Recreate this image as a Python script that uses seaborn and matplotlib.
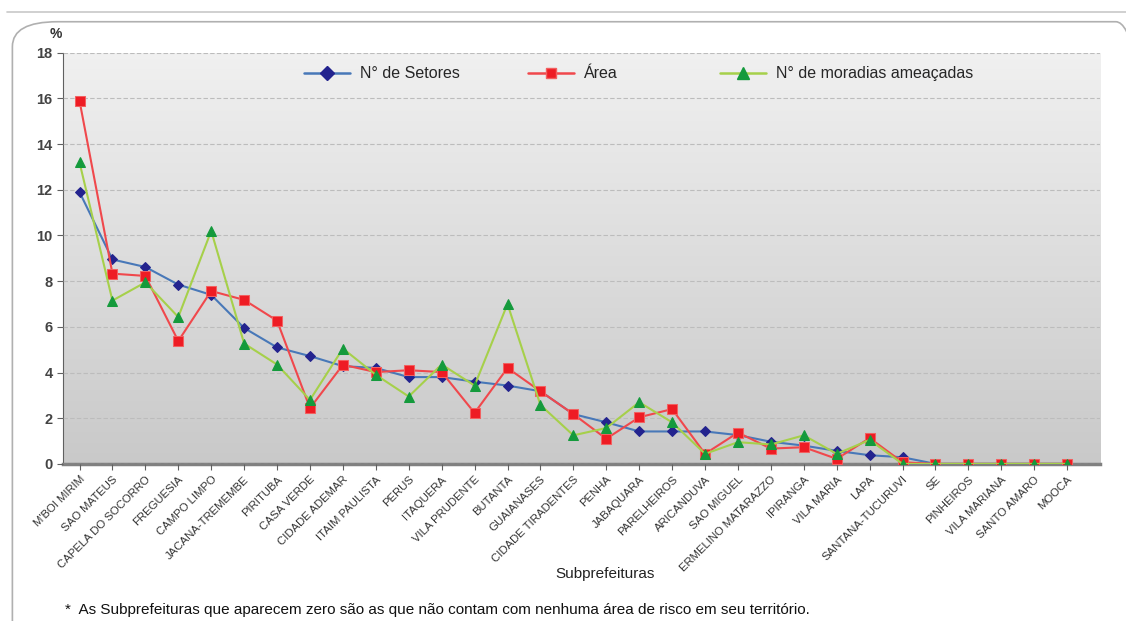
import numpy as np
import pandas as pd
import seaborn as sns
from matplotlib import pyplot as plt
from matplotlib.patches import FancyBboxPatch
from matplotlib.lines import Line2D

subprefeituras = ["M'BOI MIRIM", "SAO MATEUS", "CAPELA DO SOCORRO", "FREGUESIA", "CAMPO LIMPO",
                  "JACANA-TREMEMBE", "PIRITUBA", "CASA VERDE", "CIDADE ADEMAR", "ITAIM PAULISTA",
                  "PERUS", "ITAQUERA", "VILA PRUDENTE", "BUTANTA", "GUAIANASES",
                  "CIDADE TIRADENTES", "PENHA", "JABAQUARA", "PARELHEIROS", "ARICANDUVA",
                  "SAO MIGUEL", "ERMELINO MATARAZZO", "IPIRANGA", "VILA MARIA", "LAPA",
                  "SANTANA-TUCURUVI", "SE", "PINHEIROS", "VILA MARIANA", "SANTO AMARO", "MOOCA"]

setores = [11.9, 8.95, 8.62, 7.85, 7.4, 5.95, 5.1, 4.72, 4.28, 4.2, 3.8, 3.8, 3.6, 3.43, 3.18,
           2.18, 1.82, 1.42, 1.42, 1.42, 1.26, 0.97, 0.8, 0.57, 0.38, 0.29, 0, 0, 0, 0, 0]
area = [15.9, 8.33, 8.23, 5.38, 7.57, 7.18, 6.27, 2.44, 4.34, 4.02, 4.1, 4.02, 2.23, 4.2, 3.18,
        2.18, 1.1, 2.04, 2.4, 0.44, 1.37, 0.67, 0.73, 0.22, 1.13, 0.07, 0, 0, 0, 0, 0]
moradias = [13.2, 7.15, 7.95, 6.43, 10.2, 5.27, 4.35, 2.8, 5.05, 3.9, 2.95, 4.35, 3.43, 7.0, 2.58,
            1.25, 1.57, 2.7, 1.82, 0.44, 0.95, 0.85, 1.25, 0.44, 1.05, 0, 0, 0, 0, 0, 0]

df = pd.DataFrame({"sub": subprefeituras, "setores": setores, "area": area, "moradias": moradias})

sns.set_style("white")
plt.rcParams["font.family"] = ["Liberation Sans", "DejaVu Sans"]

fig = plt.figure(figsize=(11.26, 6.21), dpi=100)
fig.patches.append(FancyBboxPatch((0.011, -0.05), 1.02, 1.015, boxstyle="round,pad=0,rounding_size=0.04",
                                  transform=fig.transFigure, facecolor="none", edgecolor="#b0b0b0", lw=1.2))
fig.add_artist(Line2D([0.006, 1.0], [0.981, 0.981], transform=fig.transFigure, color="#c8c8c8", lw=1.2))

ax = fig.add_axes([0.056, 0.253, 0.921, 0.662])

# fundo em degradê
grad = np.linspace(0, 1, 256).reshape(-1, 1)
ax.imshow(grad, extent=[-0.5, 31.0, 0, 18], aspect="auto", cmap=sns.light_palette("#c9c9c9", as_cmap=True),
          origin="upper", zorder=0)

sns.lineplot(data=df, x="sub", y="setores", ax=ax, sort=False, color="#4878b8", lw=1.5,
             marker="D", markersize=5.5, markerfacecolor="#23238e", markeredgecolor="#23238e", zorder=3)
sns.lineplot(data=df, x="sub", y="area", ax=ax, sort=False, color="#f0484c", lw=1.5,
             marker="s", markersize=6.5, markerfacecolor="#ee1c24", markeredgecolor="#f26060", zorder=4)
sns.lineplot(data=df, x="sub", y="moradias", ax=ax, sort=False, color="#a6d04a", lw=1.5,
             marker="^", markersize=7, markerfacecolor="#149a3c", markeredgecolor="#149a3c", zorder=5)

ax.set_xlim(-0.5, 31.0)
ax.set_ylim(0, 18)
ax.set_yticks(np.arange(0, 19, 2))
ax.yaxis.grid(True, linestyle=(0, (4, 2)), color="#bcbcbc", lw=0.8)
ax.set_axisbelow(False)
for s in ["top", "right"]:
    ax.spines[s].set_visible(False)
ax.spines["left"].set_color("#606060")
ax.spines["bottom"].set_color("#808080")
ax.spines["bottom"].set_linewidth(2.5)
ax.tick_params(axis="both", length=4, color="#606060", direction="out", bottom=True, left=True)
ax.set_xticks(range(len(subprefeituras)))
ax.set_xticklabels(subprefeituras, rotation=45, ha="right", rotation_mode="anchor", fontsize=8.2, color="#333333")
plt.setp(ax.get_yticklabels(), fontsize=10.5, fontweight="bold", color="#444444")
ax.set_xlabel("Subprefeituras", fontsize=11, color="#222222", labelpad=0)
ax.xaxis.set_label_coords(0.523, -0.25)
ax.set_ylabel("")
ax.text(-0.007, 1.035, "%", transform=ax.transAxes, fontsize=10, fontweight="bold", ha="center", color="#333333")

# legenda: uma entrada por caixa, espaçamento como no original
handles = [
    Line2D([], [], color="#4878b8", lw=1.8, marker="D", markersize=7, markerfacecolor="#23238e", markeredgecolor="#23238e"),
    Line2D([], [], color="#f0484c", lw=1.8, marker="s", markersize=7, markerfacecolor="#ee1c24", markeredgecolor="#f26060"),
    Line2D([], [], color="#a6d04a", lw=1.8, marker="^", markersize=8, markerfacecolor="#149a3c", markeredgecolor="#149a3c"),
]
labels = ["N° de Setores", "Área", "N° de moradias ameaçadas"]
leg_x = [0.2324, 0.4484, 0.6336]
for i, (h, lab, x) in enumerate(zip(handles, labels, leg_x)):
    leg = ax.legend([h], [lab], frameon=False, loc="center left", bbox_to_anchor=(x, 0.949),
                    fontsize=11.5, handlelength=2.9, handletextpad=0.6, borderpad=0, borderaxespad=0)
    if i < len(labels) - 1:
        ax.add_artist(leg)

fig.text(0.058, 0.012, "*  As Subprefeituras que aparecem zero são as que não contam com nenhuma área de risco em seu território.",
         fontsize=11, family=["Liberation Sans Narrow", "Liberation Sans", "DejaVu Sans"], color="#111111")

fig.savefig("out.png", dpi=100)
